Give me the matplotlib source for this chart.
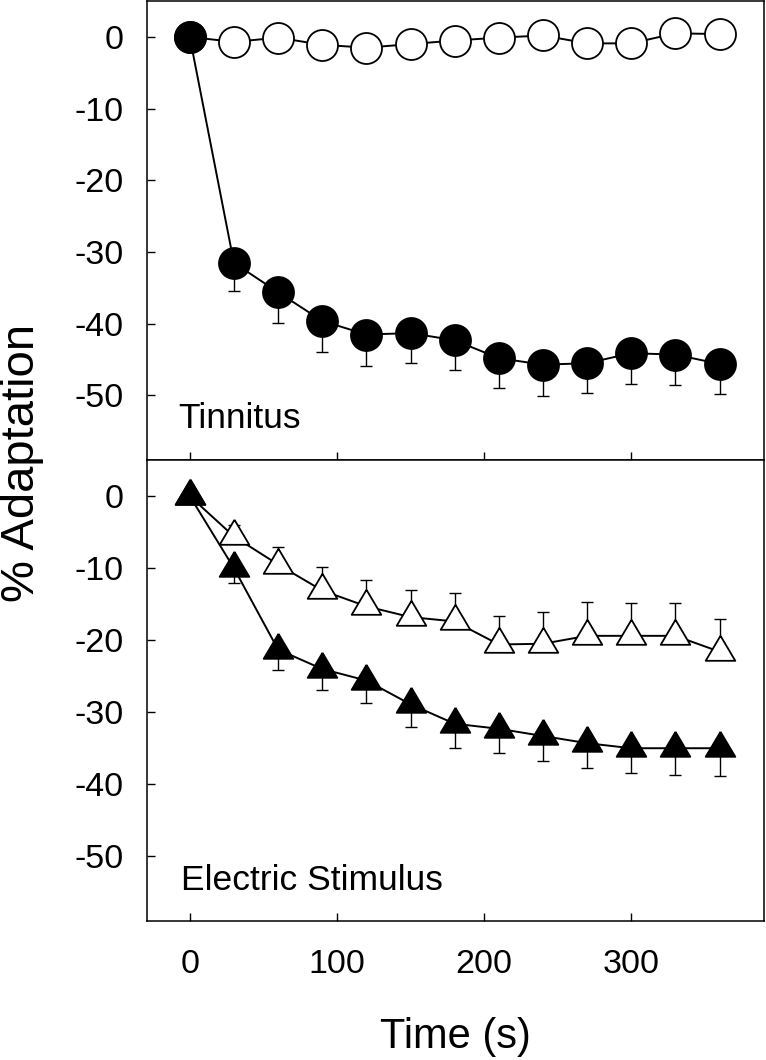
import matplotlib
matplotlib.use("Agg")
import matplotlib.pyplot as plt
import numpy as np

plt.rcParams['font.family'] = ['Liberation Sans', 'DejaVu Sans']

time_s = [0, 30, 60, 90, 120, 150, 180, 210, 240, 270, 300, 330, 360]

tinnitus_filled = [0, -31.5, -35.6, -39.6, -41.5, -41.3, -42.3, -44.8, -45.7, -45.5, -44.1, -44.3, -45.6]
tinnitus_filled_err = [0, 3.9, 4.3, 4.4, 4.4, 4.1, 4.1, 4.2, 4.4, 4.2, 4.3, 4.3, 4.2]
tinnitus_open = [0, -0.7, -0.1, -1.1, -1.5, -1.0, -0.5, -0.1, 0.2, -0.9, -0.9, 0.5, 0.4]

electric_filled = [0, -10.0, -21.3, -24.0, -25.6, -28.9, -31.6, -32.3, -33.3, -34.3, -35.0, -35.0, -35.0]
electric_filled_err = [0, 2.0, 2.9, 2.9, 3.1, 3.1, 3.3, 3.3, 3.5, 3.5, 3.5, 3.7, 3.8]
electric_open = [0, -5.6, -9.5, -13.1, -15.3, -16.8, -17.4, -20.6, -20.5, -19.4, -19.4, -19.4, -21.6]
electric_open_err = [0, 1.6, 2.4, 3.3, 3.7, 3.8, 4.0, 4.0, 4.4, 4.7, 4.5, 4.5, 4.6]

y_ticks = [0, -10, -20, -30, -40, -50]
x_ticks = [0, 100, 200, 300]

# triangle marker with centroid at the data point
tri = [(0, 16.7), (-14.8, -8.3), (14.8, -8.3), (0, 16.7)]

fig = plt.figure(figsize=(7.66, 10.60), dpi=100)
ax1 = fig.add_axes([0.192, 0.566, 0.805, 0.433])
ax2 = fig.add_axes([0.192, 0.131, 0.805, 0.435])

px = 72 / 100.0
circ_ms = 31 * px
tri_ms = 33.4 * px
lw_line = 1.4
cap = 6 * px
zeros = np.zeros(len(time_s))

# Top panel
ax1.errorbar(time_s, tinnitus_filled, yerr=[tinnitus_filled_err, zeros], fmt='none',
             ecolor='black', elinewidth=1.0, capsize=cap, capthick=1.0, zorder=1)
ax1.plot(time_s, tinnitus_open, '-', color='black', lw=lw_line, marker='o', ms=circ_ms,
         mfc='white', mec='black', mew=1.3, zorder=2)
ax1.plot(time_s, tinnitus_filled, '-', color='black', lw=lw_line, marker='o', ms=circ_ms,
         mfc='black', mec='black', mew=1.3, zorder=3)

# Bottom panel
ax2.errorbar(time_s, electric_filled, yerr=[electric_filled_err, zeros], fmt='none',
             ecolor='black', elinewidth=1.0, capsize=cap, capthick=1.0, zorder=1)
ax2.errorbar(time_s, electric_open, yerr=[zeros, electric_open_err], fmt='none',
             ecolor='black', elinewidth=1.0, capsize=cap, capthick=1.0, zorder=1)
ax2.plot(time_s, electric_open, '-', color='black', lw=lw_line, marker=tri, ms=tri_ms,
         mfc='white', mec='black', mew=1.3, zorder=2)
ax2.plot(time_s, electric_filled, '-', color='black', lw=lw_line, marker=tri, ms=tri_ms,
         mfc='black', mec='black', mew=1.3, zorder=3)

for ax in (ax1, ax2):
    ax.set_xlim(-29, 390)
    ax.set_ylim(-59, 5)
    ax.set_yticks(y_ticks)
    ax.set_yticklabels([str(v) for v in y_ticks])
    ax.set_xticks(x_ticks)
    ax.tick_params(axis='both', direction='in', length=6, width=1.0, labelsize=24.5)
    ax.tick_params(axis='y', pad=17)
    ax.tick_params(axis='x', pad=20)
    for s in ax.spines.values():
        s.set_linewidth(1.1)

ax1.tick_params(axis='x', labelbottom=False)

ax1.text(0.050, 0.070, 'Tinnitus', transform=ax1.transAxes, fontsize=25.5, ha='left', va='baseline')
ax2.text(0.055, 0.067, 'Electric Stimulus', transform=ax2.transAxes, fontsize=25.5, ha='left', va='baseline')

fig.text(0.029, 0.563, '% Adaptation', rotation=90, fontsize=34, ha='center', va='center')
fig.text(0.594, 0.022, 'Time (s)', fontsize=30, ha='center', va='center')

fig.savefig('out.png', dpi=100)
